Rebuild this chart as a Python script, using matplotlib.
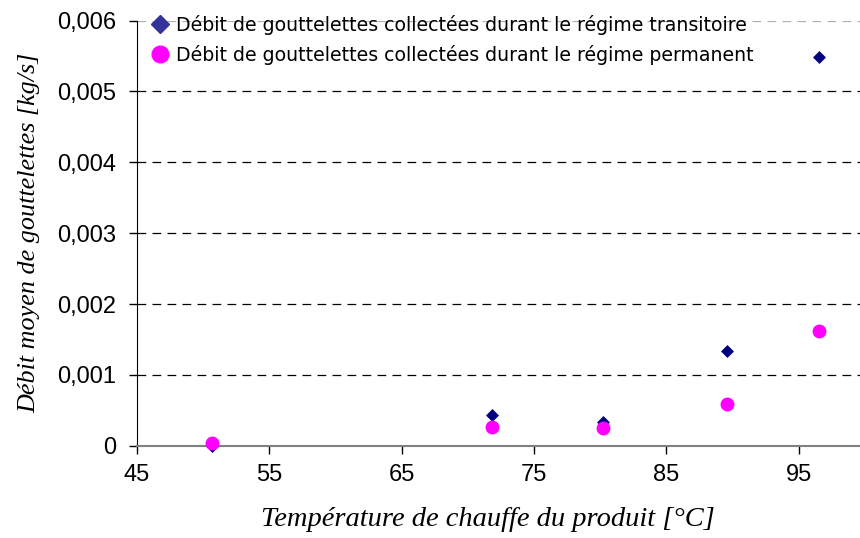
import matplotlib
matplotlib.use("Agg")
import matplotlib.pyplot as plt
from matplotlib.lines import Line2D
from matplotlib.ticker import FuncFormatter, MultipleLocator

# Températures de chauffe du produit [°C]
temperature = [50.7, 71.8, 80.2, 89.6, 96.5]
# Débit moyen de gouttelettes [kg/s]
debit_transitoire = [0.0, 0.00044, 0.00034, 0.00134, 0.00549]
debit_permanent = [0.00004, 0.00027, 0.000255, 0.00059, 0.00162]

label_transitoire = "Débit de gouttelettes collectées durant le régime transitoire"
label_permanent = "Débit de gouttelettes collectées durant le régime permanent"

fig = plt.figure(figsize=(8.6, 5.38), dpi=100)
ax = fig.add_axes([0.159, 0.1716, 0.847, 0.79])

ax.scatter(temperature, debit_transitoire, marker="D", s=6.6 ** 2,
           color="#000080", linewidths=0, zorder=3, clip_on=False)
ax.scatter(temperature, debit_permanent, marker="o", s=10 ** 2,
           color="#FF00FF", linewidths=0, zorder=4, clip_on=False)

ax.set_xlim(45, 100)
ax.set_ylim(0, 0.006)
ax.yaxis.set_major_locator(MultipleLocator(0.001))
ax.set_xticks([45, 55, 65, 75, 85, 95])


def virgule(v, pos):
    if abs(v) < 1e-12:
        return "0"
    return f"{v:.3f}".replace(".", ",")


ax.yaxis.set_major_formatter(FuncFormatter(virgule))

for y in [0.001, 0.002, 0.003, 0.004, 0.005]:
    ax.axhline(y, color="black", lw=0.9, dashes=(7, 5), zorder=1)
ax.axhline(0.006, color="#b0b0b0", lw=0.9, dashes=(7, 5), zorder=1)

for side in ["top", "right"]:
    ax.spines[side].set_visible(False)
ax.spines["left"].set_color("black")
ax.spines["bottom"].set_color("#808080")
ax.spines["bottom"].set_linewidth(1.5)

ax.tick_params(axis="both", direction="out", length=6, width=1,
               labelsize=17, colors="black")
ax.tick_params(axis="y", pad=9)
ax.tick_params(axis="x", pad=7)
for lab in ax.get_xticklabels() + ax.get_yticklabels():
    lab.set_family("Liberation Sans")

ax.set_xlabel("Température de chauffe du produit [°C]", family="Liberation Serif",
              style="italic", fontsize=20.5)
# titre d'axe un peu décalé à gauche du centre de l'axe
ax.xaxis.set_label_coords(0.482, -0.145)
ax.set_ylabel("Débit moyen de gouttelettes [kg/s]", family="Liberation Serif",
              style="italic", fontsize=18.8, labelpad=12)

handles = [
    Line2D([], [], marker="D", ls="none", color="#333399", markersize=9),
    Line2D([], [], marker="o", ls="none", color="#FF00FF", markersize=12),
]
ax.legend(handles, [label_transitoire, label_permanent], loc="upper left",
          bbox_to_anchor=(0.171, 0.98), bbox_transform=fig.transFigure,
          frameon=False, handletextpad=0.35, handlelength=1.0,
          borderaxespad=0.0, borderpad=0.2, labelspacing=0.55,
          prop={"family": "DejaVu Sans", "size": 13.6})

fig.savefig("out.png", dpi=100)
